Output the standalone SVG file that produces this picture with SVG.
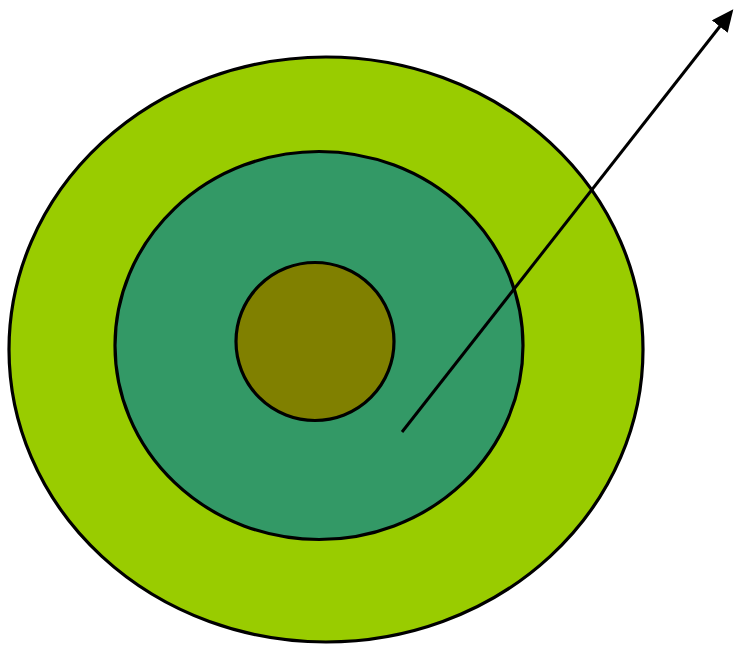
<svg xmlns="http://www.w3.org/2000/svg" width="736" height="646" viewBox="0 0 736 646">
<style>
.ring{stroke:#000;stroke-width:3.2}
.conn{stroke:#000;stroke-width:3;fill:none}
</style>
<defs>
<marker id="ah" viewBox="0 0 22 20" refX="2" refY="10" markerWidth="22" markerHeight="20" orient="auto" markerUnits="userSpaceOnUse">
<path d="M0,0 L22,10 L0,20 Z" fill="#000"/>
</marker>
</defs>
<rect width="736" height="646" fill="#fff"/>
<g id="outer"><ellipse class="ring" cx="326" cy="349.5" rx="317" ry="292.5" fill="#99CC00"/></g>
<g id="middle"><ellipse class="ring" cx="319" cy="345.5" rx="204" ry="194" fill="#339966"/></g>
<g id="inner"><circle class="ring" cx="315" cy="341.5" r="79" fill="#808000"/></g>
<g id="connectors">
<line class="conn" x1="402" y1="432" x2="721" y2="25" marker-end="url(#ah)"/>
</g>
</svg>
